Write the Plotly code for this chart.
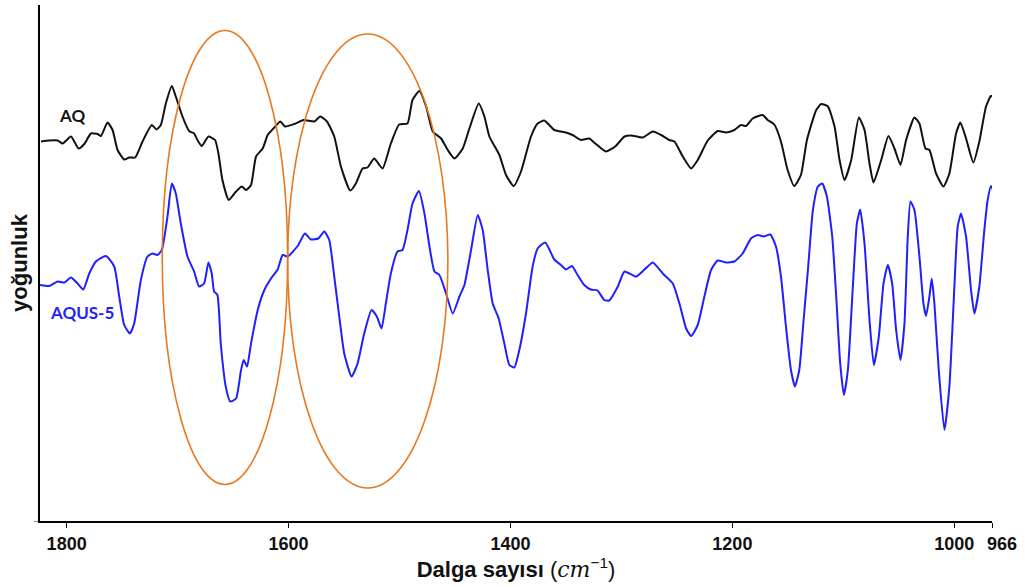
import plotly.graph_objects as go

# Wavenumbers (cm^-1) and intensities (arbitrary units)
aq_wn = [1823.1, 1815.6, 1808.1, 1803.6, 1796.1, 1789.2, 1784.1, 1778.1, 1772.1, 1769.1,
         1763.1, 1758.6, 1754.1, 1748.1, 1743.6, 1738.2, 1731.6, 1723.2, 1719.0, 1715.1,
         1710.6, 1705.2, 1701.6, 1695.6, 1689.6, 1685.1, 1682.1, 1678.2, 1672.2, 1666.2,
         1663.2, 1659.6, 1653.9, 1647.3, 1642.2, 1638.3, 1633.8, 1629.3, 1623.3, 1618.8,
         1612.8, 1607.4, 1603.2, 1594.8, 1586.4, 1576.8, 1571.4, 1565.4, 1558.8, 1552.8,
         1544.4, 1539.3, 1533.3, 1528.8, 1522.8, 1515.3, 1507.8, 1500.3, 1492.8, 1488.3,
         1482.0, 1476.0, 1470.0, 1462.5, 1456.5, 1450.5, 1443.0, 1437.0, 1428.6, 1423.5,
         1419.0, 1410.0, 1404.0, 1397.1, 1390.5, 1381.5, 1375.5, 1369.5, 1360.5, 1350.0,
         1344.0, 1336.5, 1329.0, 1323.0, 1314.0, 1305.6, 1297.2, 1291.2, 1280.7, 1271.7,
         1264.2, 1256.7, 1252.2, 1244.7, 1237.2, 1231.2, 1222.2, 1213.2, 1205.7, 1198.2,
         1192.2, 1187.7, 1181.7, 1172.7, 1168.2, 1162.2, 1156.2, 1150.2, 1144.2, 1138.2,
         1132.8, 1124.4, 1119.9, 1113.9, 1107.9, 1103.4, 1098.9, 1092.9, 1086.0, 1080.9,
         1076.4, 1072.8, 1065.9, 1059.3, 1053.9, 1048.5, 1043.4, 1035.9, 1031.4, 1026.0,
         1022.4, 1016.4, 1009.8, 1004.4, 998.4, 994.5, 989.4, 982.8, 977.4, 971.4,
         966.9, 963.9]
aq_int = [75.9, 76.1, 76.1, 75.5, 76.9, 74.5, 75.4, 77.5, 77.4, 77.0,
          79.7, 78.2, 74.2, 72.3, 72.7, 72.7, 75.9, 79.2, 78.3, 79.2,
          83.5, 87.0, 84.9, 80.9, 78.0, 77.5, 76.2, 75.0, 76.9, 76.2,
          73.5, 68.2, 64.2, 65.9, 66.9, 66.2, 67.2, 72.9, 74.5, 77.2,
          78.7, 79.9, 78.9, 79.4, 80.2, 79.9, 80.9, 79.9, 76.9, 70.9,
          66.1, 67.5, 70.5, 70.7, 72.5, 70.5, 75.5, 79.3, 79.5, 84.2,
          86.0, 82.9, 77.9, 76.5, 74.2, 72.5, 74.5, 78.5, 83.5, 80.9,
          76.9, 73.2, 69.2, 67.0, 69.9, 76.9, 79.5, 80.1, 78.2, 77.7,
          77.2, 76.2, 76.5, 75.4, 73.9, 74.9, 76.9, 77.1, 76.7, 77.9,
          77.2, 76.2, 75.9, 72.9, 70.5, 72.2, 76.1, 78.0, 77.7, 78.2,
          79.2, 79.0, 80.5, 81.2, 80.2, 79.3, 75.9, 70.2, 67.0, 69.2,
          76.2, 82.2, 83.4, 82.9, 78.9, 72.2, 68.2, 72.2, 80.7, 78.2,
          71.5, 67.7, 72.2, 77.0, 74.5, 71.2, 76.2, 80.7, 79.5, 74.5,
          74.2, 69.5, 66.9, 69.5, 77.5, 79.7, 76.5, 71.7, 75.9, 82.9,
          85.0, 84.9]

aqus_wn = [1824.0, 1815.6, 1808.1, 1802.1, 1796.1, 1790.1, 1785.0, 1779.6, 1773.6, 1764.6,
           1757.1, 1752.6, 1748.1, 1743.0, 1739.1, 1733.1, 1727.1, 1722.6, 1718.1, 1714.2,
           1709.1, 1705.2, 1701.6, 1697.1, 1691.1, 1685.1, 1680.6, 1676.1, 1672.2, 1669.2,
           1667.1, 1664.1, 1661.1, 1656.6, 1652.6, 1647.3, 1642.8, 1640.4, 1637.4, 1633.8,
           1627.8, 1621.8, 1615.8, 1609.8, 1605.3, 1600.8, 1591.8, 1585.2, 1579.8, 1573.2,
           1567.8, 1563.3, 1558.8, 1554.3, 1549.8, 1543.2, 1537.8, 1531.8, 1525.2, 1520.4,
           1516.2, 1512.3, 1507.8, 1501.8, 1497.3, 1492.8, 1488.3, 1482.5, 1477.5, 1473.0,
           1468.5, 1464.0, 1458.6, 1452.0, 1446.0, 1441.5, 1435.5, 1429.5, 1425.0, 1420.5,
           1416.0, 1410.6, 1405.5, 1401.0, 1396.5, 1392.0, 1386.0, 1380.0, 1375.5, 1368.6,
           1360.5, 1354.5, 1350.0, 1344.6, 1339.5, 1333.5, 1327.5, 1321.5, 1315.5, 1311.0,
           1303.2, 1297.2, 1286.7, 1279.2, 1271.7, 1262.7, 1253.7, 1247.7, 1241.7, 1237.2,
           1231.2, 1225.2, 1219.2, 1213.2, 1205.7, 1198.2, 1190.7, 1183.2, 1177.2, 1171.8,
           1165.8, 1160.7, 1156.2, 1151.7, 1147.2, 1143.6, 1139.7, 1135.8, 1131.9, 1127.4,
           1122.9, 1119.0, 1114.8, 1110.0, 1106.4, 1102.8, 1099.5, 1095.9, 1091.4, 1087.8,
           1084.8, 1080.9, 1076.4, 1072.5, 1068.0, 1063.8, 1059.9, 1056.0, 1052.4, 1048.5,
           1044.9, 1041.9, 1039.5, 1035.9, 1031.4, 1027.8, 1025.4, 1022.4, 1020.3, 1017.9,
           1014.0, 1008.9, 1004.4, 999.9, 996.9, 993.9, 989.4, 984.9, 981.9, 977.4,
           972.9, 969.9, 966.9, 963.0]
aqus_int = [47.2, 47.0, 47.9, 47.7, 48.7, 47.5, 46.3, 49.5, 51.9, 53.0,
            50.9, 44.9, 39.2, 37.5, 39.5, 48.2, 52.9, 53.5, 53.2, 54.2,
            60.9, 67.5, 65.5, 59.5, 52.9, 49.9, 46.9, 47.5, 51.7, 49.5,
            45.9, 45.2, 35.5, 26.9, 23.9, 24.5, 30.2, 32.2, 30.9, 35.5,
            42.2, 46.2, 48.5, 50.3, 53.2, 52.9, 55.0, 57.5, 56.3, 56.5,
            57.9, 56.2, 48.9, 40.9, 33.5, 28.9, 31.5, 37.5, 42.2, 40.9,
            38.5, 43.5, 49.5, 53.9, 54.2, 58.2, 63.5, 66.0, 61.5, 54.9,
            49.9, 49.2, 45.9, 41.5, 44.9, 47.2, 54.2, 61.2, 58.2, 50.2,
            43.5, 40.5, 35.5, 31.2, 30.7, 34.2, 41.5, 50.9, 54.5, 55.7,
            52.3, 51.2, 50.3, 51.0, 49.2, 47.2, 46.3, 46.1, 44.2, 44.1,
            46.9, 49.9, 48.9, 50.3, 51.7, 49.5, 47.5, 43.5, 38.5, 37.0,
            39.2, 44.9, 50.2, 52.1, 51.7, 51.9, 53.5, 56.5, 57.2, 56.9,
            57.3, 54.9, 48.9, 38.9, 30.2, 26.9, 30.2, 40.2, 50.2, 62.2,
            66.9, 67.5, 64.9, 56.9, 44.9, 31.5, 25.2, 30.2, 46.9, 59.5,
            62.3, 55.5, 40.2, 31.2, 36.9, 47.5, 51.2, 47.5, 38.2, 32.2,
            39.5, 56.9, 63.9, 62.2, 52.9, 43.5, 41.0, 44.9, 48.5, 43.5,
            30.2, 18.2, 26.9, 46.9, 58.9, 61.5, 56.9, 46.2, 41.5, 46.9,
            58.2, 64.2, 67.0, 64.9]

tick_vals = [1800, 1600, 1400, 1200, 1000, 966]
tick_text = ["1800", "1600", "1400", "1200", "1000", "\u00a0\u00a0\u00a0\u00a0966"]

# Highlighted regions (wavenumber span, intensity span)
ellipse_wn = [(1713.8, 1600.8), (1600.8, 1456.4)]
ellipse_int = [(7.3, 98.1), (6.6, 97.4)]

x_range = [1824, 966]
y_range = [0, 103.2]

fig = go.Figure()
fig.add_trace(go.Scatter(x=aq_wn, y=aq_int, mode="lines", name="AQ",
                         line=dict(color="#111111", width=2, shape="spline", smoothing=0.5)))
fig.add_trace(go.Scatter(x=aqus_wn, y=aqus_int, mode="lines", name="AQUS-5",
                         line=dict(color="#1f1fff", width=2, shape="spline", smoothing=0.5)))

for (xa, xb), (ya, yb) in zip(ellipse_wn, ellipse_int):
    fig.add_shape(type="circle", xref="x", yref="y", x0=xa, x1=xb, y0=ya, y1=yb,
                  line=dict(color="#E8781E", width=1.6), layer="above")

fig.add_annotation(x=1795, y=81.2, xref="x", yref="y", text="<b>AQ</b>", showarrow=False,
                   font=dict(family="Lato", size=17, color="#111111"))
fig.add_annotation(x=1786, y=41.8, xref="x", yref="y", text="<b>AQUS-5</b>", showarrow=False,
                   font=dict(family="Lato", size=17, color="#1f1fff"))

fig.update_layout(
    width=1027, height=587,
    margin=dict(l=40, r=35, t=5, b=66),
    paper_bgcolor="white", plot_bgcolor="white",
    showlegend=False,
    font=dict(family="Liberation Sans", color="black"),
)
fig.update_xaxes(
    range=x_range, tickmode="array", tickvals=tick_vals, ticktext=tick_text,
    tickangle=0,
    showline=True, linecolor="black", linewidth=2, ticks="outside", ticklen=5,
    tickcolor="black", showgrid=False, zeroline=False, automargin=False,
    tickfont=dict(family="Liberation Sans", size=18, color="#111111", weight="bold"),
    title=dict(text="<b>Dalga sayısı </b>(<span style=\"font-family:'DejaVu Serif'\"><i>cm</i></span><sup>−1</sup>)",
               font=dict(family="Liberation Sans", size=22, color="#111111"), standoff=4),
)
fig.update_yaxes(
    range=y_range, showline=True, linecolor="black", linewidth=2,
    showticklabels=False, ticks="outside", ticklen=4, tickvals=[0], tickcolor="#888888",
    showgrid=False, zeroline=False, automargin=False,
    title=dict(text="<b>yoğunluk</b>", font=dict(family="Liberation Sans", size=22, color="#111111"),
               standoff=0),
)

fig.write_html("out.html", config={"displayModeBar": False},
               post_script="document.body.style.margin='0px';")
